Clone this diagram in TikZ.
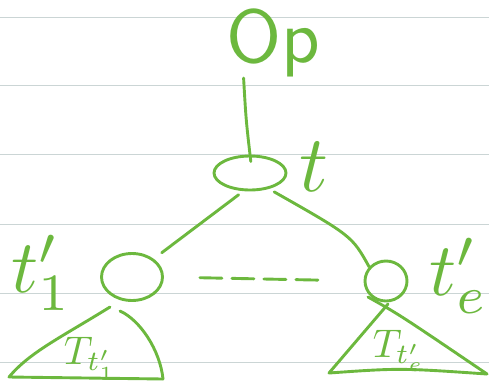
\documentclass[tikz,border=0pt]{standalone}
\usetikzlibrary{shapes.geometric, positioning}
\definecolor{pen}{RGB}{108,184,62}
\definecolor{ruled}{RGB}{203,213,213}

\begin{document}
\begin{tikzpicture}[x=1pt, y=-1pt, line cap=round, line join=round,
    stroke/.style={draw=pen, line width=2.9pt},
    vertex/.style={ellipse, stroke, inner sep=0pt},
    tag/.style={text=pen, inner sep=0pt, anchor=base west}]
  \useasboundingbox (0,0) rectangle (489,386);
  % ruled paper
  \foreach \y in {17,85,154,224,293,362}
    \draw[ruled, line width=1pt] (0,\y) -- (489,\y);

  \node[tag, font=\sffamily, scale=7.5] (op) at (225,62) {Op};
  \node[vertex, minimum width=72pt, minimum height=34pt] (t) at (250,173) {};
  \node[vertex, minimum width=61pt, minimum height=47pt] (t1) at (132,277) {};
  \node[vertex, minimum width=42pt, minimum height=40pt] (te) at (386,281) {};

  \node[tag, scale=8] (lt) at (298,191) {$t$};
  \node[tag, scale=7.5] (lt1) at (10,292) {$t'_1$};
  \node[tag, scale=7.5] (lte) at (428,295) {$t'_e$};

  \draw[stroke, shorten >=-7pt] (op.230) .. controls (246,120) .. (t.north);
  \draw[stroke, shorten <=6pt, shorten >=10pt] (t.250) -- (t1.40);
  \draw[stroke, shorten <=6pt] (t.-40) .. controls (352,236) .. (te.140);
  \draw[stroke, dash pattern=on 22pt off 10pt, shorten <=36pt, shorten >=44pt]
    (t1.east) -- (te.west);

  % subtrees
  \coordinate (a1) at (110,307);
  \coordinate (b1) at (9,377);
  \coordinate (c1) at (163,379);
  \coordinate (r1) at (120,311);
  \draw[stroke] (a1) .. controls (60,338) and (30,352) .. (b1) -- (c1);
  \draw[stroke] (r1) .. controls (140,320) and (160,350) .. (c1);
  \node[tag, scale=4] (T1) at (63,364) {$T_{t'_1}$};

  \coordinate (a2) at (388,304);
  \coordinate (b2) at (329,373);
  \coordinate (c2) at (487,374);
  \coordinate (r2) at (368,297);
  \draw[stroke] (a2) -- (b2) .. controls (400,368) .. (c2);
  \draw[stroke] (r2) .. controls (400,315) .. (c2);
  \node[tag, scale=4] (Te) at (372,357) {$T_{t'_e}$};
\end{tikzpicture}
\end{document}
